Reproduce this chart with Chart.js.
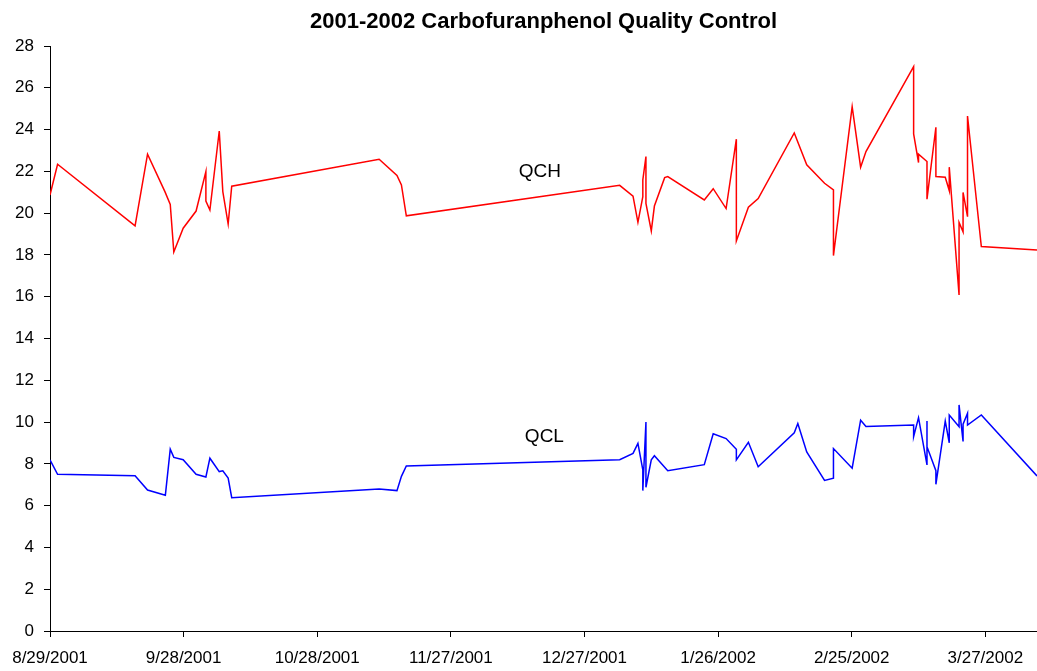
<!DOCTYPE html>
<html>
<head>
<meta charset="utf-8">
<script src="https://cdn.jsdelivr.net/npm/chart.js@4/dist/chart.umd.min.js"></script>
<style>
  html, body { margin: 0; padding: 0; background: #fff; }
  #wrap { width: 1037px; height: 671px; }
</style>
</head>
<body>
<div id="wrap"><canvas id="qcChart"></canvas></div>
<script>
// days counted from 8/29/2001
var startDate = Date.UTC(2001, 7, 29);
var xTickDays = [0, 30, 60, 90, 120, 150, 180, 210];
var yTicks = [0, 2, 4, 6, 8, 10, 12, 14, 16, 18, 20, 22, 24, 26, 28];

// QCH (high control) samples
var qchDays = [0, 1.7, 19.1, 21.9, 25.8, 27, 27.8, 29.9, 32.8, 35,
  35, 35.9, 38, 38.8, 40, 40.8, 73.9, 77.9, 78.9, 80,
  127.9, 130.9, 132, 133.1, 133.1, 133.8, 133.8, 135, 135.7, 138,
  138.7, 146.9, 148.9, 151.8, 154.1, 154.1, 156.8, 159, 167.1, 169.9,
  173.9, 175.9, 175.9, 180.1, 182, 183.2, 193.9, 193.9, 195, 195,
  196.9, 196.9, 198.9, 198.9, 201, 201.9, 201.9, 204.1, 204.1, 205,
  205, 206, 206, 209.1, 221.6];
var qchValues = [20.87, 22.34, 19.39, 22.82, 21.03, 20.42, 18.14, 19.28, 20.1, 21.99,
  20.58, 20.15, 23.93, 21.03, 19.48, 21.29, 22.58, 21.8, 21.35, 19.87,
  21.33, 20.81, 19.56, 20.79, 21.59, 22.71, 20.47, 19.15, 20.34, 21.7,
  21.75, 20.63, 21.17, 20.22, 23.54, 18.67, 20.28, 20.7, 23.84, 22.31,
  21.43, 21.11, 17.97, 25.1, 22.2, 22.95, 27.01, 23.79, 22.42, 22.82,
  22.47, 20.67, 24.11, 21.75, 21.72, 21.08, 22.2, 16.08, 19.56, 19.11,
  20.99, 19.83, 24.65, 18.4, 18.24];

// QCL (low control) samples
var qclDays = [0, 1.7, 19.1, 21.9, 25.9, 27, 27.8, 29.9, 32.8, 35,
  35.9, 38, 38.8, 40, 40.8, 73.9, 77.9, 78.9, 80, 127.9,
  130.9, 132, 133.1, 133.1, 133.8, 133.8, 135, 135.7, 138.7, 146.9,
  148.9, 151.8, 154.1, 154.1, 156.8, 159, 167.1, 167.9, 169.9, 173.9,
  175.9, 175.9, 180.1, 182, 183.2, 193.9, 193.9, 195, 196.9, 196.9,
  196.9, 198.9, 198.9, 201, 201.9, 201.9, 204.1, 204.1, 205, 205,
  206, 206, 209.1, 221.6];
var qclValues = [8.19, 7.5, 7.43, 6.75, 6.5, 8.7, 8.31, 8.2, 7.5, 7.37,
  8.27, 7.63, 7.67, 7.32, 6.38, 6.8, 6.72, 7.4, 7.9, 8.2,
  8.5, 8.98, 7.71, 6.72, 10.0, 6.88, 8.19, 8.39, 7.67, 7.96,
  9.44, 9.21, 8.7, 8.19, 9.03, 7.86, 9.49, 9.93, 8.57, 7.21,
  7.31, 8.73, 7.79, 10.09, 9.79, 9.86, 9.3, 10.21, 7.95, 10.05,
  8.82, 7.67, 7.02, 10.05, 9.01, 10.34, 9.78, 10.82, 9.07, 9.9,
  10.42, 9.86, 10.34, 7.42];

// series labels drawn inside the plot
var seriesLabels = [
  { text: 'QCH', day: 110, value: 22.0 },
  { text: 'QCL', day: 111, value: 9.3 }
];

var fontFamily = '"Liberation Sans", Arial, sans-serif';

function toPoints(days, values) {
  return days.map(function (d, i) { return { x: d, y: values[i] }; });
}

function formatDay(v) {
  var dt = new Date(startDate + v * 86400000);
  return (dt.getUTCMonth() + 1) + '/' + dt.getUTCDate() + '/' + dt.getUTCFullYear();
}

// plugin to write QCH / QCL next to the lines
var seriesLabelPlugin = {
  id: 'seriesLabels',
  afterDatasetsDraw: function (chart) {
    var ctx = chart.ctx;
    var xs = chart.scales.x, ys = chart.scales.y;
    ctx.save();
    ctx.fillStyle = '#000';
    ctx.font = '19px ' + fontFamily;
    ctx.textAlign = 'center';
    ctx.textBaseline = 'middle';
    seriesLabels.forEach(function (l) {
      ctx.fillText(l.text, xs.getPixelForValue(l.day), ys.getPixelForValue(l.value));
    });
    ctx.restore();
  }
};

var ctx = document.getElementById('qcChart').getContext('2d');
var qcChart = new Chart(ctx, {
  type: 'line',
  data: {
    datasets: [
      {
        label: 'QCH',
        data: toPoints(qchDays, qchValues),
        borderColor: '#FF0000',
        borderWidth: 1.5,
        pointRadius: 0,
        tension: 0,
        fill: false
      },
      {
        label: 'QCL',
        data: toPoints(qclDays, qclValues),
        borderColor: '#0000FF',
        borderWidth: 1.5,
        pointRadius: 0,
        tension: 0,
        fill: false
      }
    ]
  },
  options: {
    responsive: true,
    maintainAspectRatio: false,
    animation: false,
    layout: { padding: { top: 0, right: 0, bottom: 0, left: 0 } },
    plugins: {
      legend: { display: false },
      tooltip: { enabled: false },
      title: {
        display: true,
        fullSize: false,
        text: '2001-2002 Carbofuranphenol Quality Control',
        color: '#000',
        font: { family: fontFamily, size: 22, weight: 'bold' },
        padding: { top: 9, bottom: 10.6 }
      }
    },
    scales: {
      x: {
        type: 'linear',
        min: 0,
        max: 221.6,
        afterBuildTicks: function (scale) {
          scale.ticks = xTickDays.map(function (v) { return { value: v }; });
        },
        afterFit: function (scale) { scale.height = 40; },
        ticks: {
          color: '#000',
          font: { family: fontFamily, size: 17 },
          padding: 11,
          maxRotation: 0,
          autoSkip: false,
          callback: function (v) { return formatDay(v); }
        },
        grid: {
          display: true,
          drawOnChartArea: false,
          drawTicks: true,
          tickLength: 6,
          tickColor: '#000'
        },
        border: { display: true, color: '#000', width: 1 }
      },
      y: {
        min: 0,
        max: 28,
        afterBuildTicks: function (scale) {
          scale.ticks = yTicks.map(function (v) { return { value: v }; });
        },
        afterFit: function (scale) { scale.width = 50; },
        ticks: {
          color: '#000',
          font: { family: fontFamily, size: 17 },
          padding: 10
        },
        grid: {
          display: true,
          drawOnChartArea: false,
          drawTicks: true,
          tickLength: 6,
          tickColor: '#000'
        },
        border: { display: true, color: '#000', width: 1 }
      }
    }
  },
  plugins: [seriesLabelPlugin]
});
</script>
</body>
</html>
